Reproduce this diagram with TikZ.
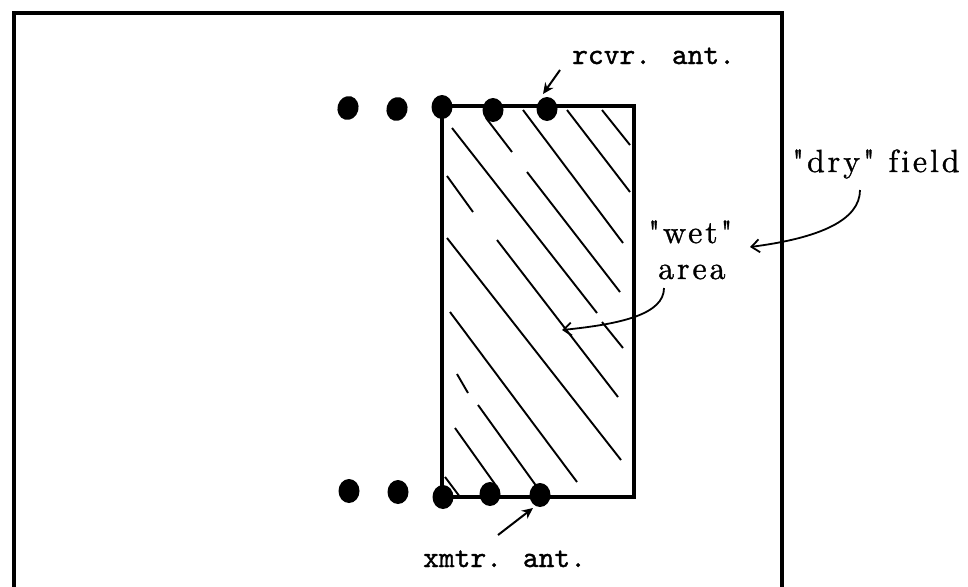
\documentclass[tikz,border=0pt]{standalone}
\usepackage{fontspec}
\newfontfamily\lblfont{lmroman10-regular.otf}[LetterSpace=9,FakeBold=1,Ligatures=NoCommon]
\newfontfamily\antfont{lmmono10-regular.otf}[FakeBold=1.2]
\usetikzlibrary{arrows.meta,shapes.geometric}
\begin{document}
\begin{tikzpicture}[x=1pt,y=-1pt,
  frame/.style={line width=4.5pt},
  wetbox/.style={draw,line width=3.5pt,inner sep=0pt},
  hatch/.style={line width=1.9pt},
  ant/.style={ellipse,fill=black,inner sep=0pt,minimum width=21pt,minimum height=24pt},
  mono/.style={font=\fontsize{30}{30}\antfont,inner sep=0pt,anchor=base west},
  serif/.style={font=\fontsize{32}{32}\lblfont,inner sep=0pt,anchor=base west},
  ptr/.style={line width=2pt,-{Stealth[length=11pt,width=10pt]}},
  cptr/.style={line width=1.8pt,-{Straight Barb[length=8pt,width=13pt]}}
]
\useasboundingbox (0,0) rectangle (968,586);
% outer field frame
\draw[frame] (14,594) -- (14,13) -- (782,13) -- (782,594);
% wet area box
\node[wetbox,minimum width=192pt,minimum height=391pt] (wet) at (538,301.5) {};
% hatching
\draw[hatch] (602,110) -- (630,145);
\draw[hatch] (567,110) -- (630,192);
\draw[hatch] (523,110) -- (623,243);
\draw[hatch] (486,118) -- (512,152);
\draw[hatch] (527,172) -- (620,292);
\draw[hatch] (452,128) -- (597,313);
\draw[hatch] (602,322) -- (623,348);
\draw[hatch] (447,176) -- (473,212);
\draw[hatch] (497,240) -- (618,397);
\draw[hatch] (447,238) -- (621,460);
\draw[hatch] (450,312) -- (577,482);
\draw[hatch] (457,374) -- (468,393);
\draw[hatch] (478,405) -- (537,487);
\draw[hatch] (455,428) -- (497,487);
\draw[hatch] (445,477) -- (460,497);
% antennas
\node[ant,rotate=-15] (r1) at (348,108) {};
\node[ant,rotate=-15] (r2) at (397,109) {};
\node[ant] (r3) at (442,107) {};
\node[ant] (r4) at (493,110) {};
\node[ant] (r5) at (547,109) {};
\node[ant] (t1) at (349,491) {};
\node[ant] (t2) at (398,492) {};
\node[ant] (t3) at (443,497) {};
\node[ant] (t4) at (490,494) {};
\node[ant] (t5) at (540,495) {};
% labels
\node[mono] (rcvr) at (572,64) {rcvr. ant.};
\node[mono] (xmtr) at (423,567) {xmtr. ant.};
\node[serif] (dry) at (792,172) {"dry" field};
\node[serif] (wetlbl) at (648,243) {"wet"};
\node[serif] (area) at (658,279) {area};
% pointers
\coordinate (rtail) at (560,70);
\coordinate (rhead) at (543,94);
\draw[ptr] (rtail) -- (rhead);
\coordinate (xtail) at (498,535);
\coordinate (xhead) at (533,508);
\draw[ptr] (xtail) -- (xhead);
\coordinate (dtail) at (860,190);
\coordinate (dhead) at (750,247);
\draw[cptr] (dtail) .. controls (860,220) and (820,238) .. (dhead);
\coordinate (atail) at (664,288);
\coordinate (ahead) at (562,330);
\draw[cptr] (atail) .. controls (664,314) and (622,324) .. (ahead);
\end{tikzpicture}
\end{document}
